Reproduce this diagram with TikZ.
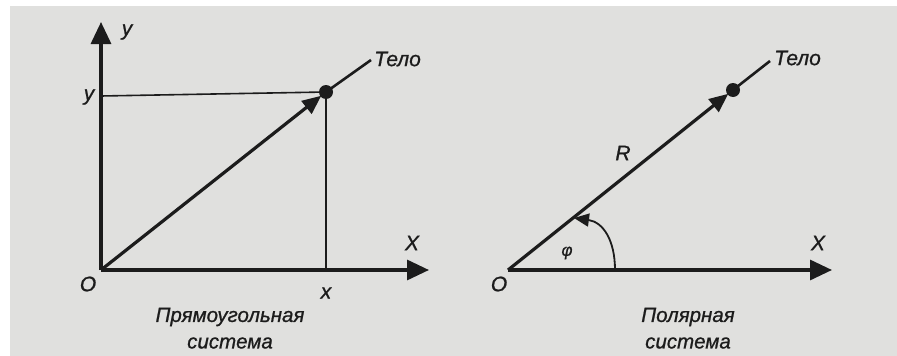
\documentclass[tikz,border=0pt]{standalone}
\usepackage{fontspec}
\setmainfont{Liberation Sans}[ItalicFeatures={FakeBold=0.9}]
\usetikzlibrary{arrows.meta}
\definecolor{ink}{RGB}{28,28,28}
\definecolor{paper}{RGB}{224,224,222}
\tikzset{
  axis/.style={draw=ink, line width=3.2pt, -{Triangle[length=22pt,width=20pt]}},
  vec/.style={draw=ink, line width=3.2pt, -{Triangle[length=19pt,width=16pt]}},
  ray/.style={draw=ink, line width=2.6pt},
  guide/.style={draw=ink, line width=1.6pt},
  body/.style={circle, fill=ink, inner sep=0pt, minimum size=14pt},
  lbl/.style={text=ink, font=\itshape\fontsize{21}{24}\selectfont, inner sep=0pt},
  captext/.style={text=ink, font=\itshape\fontsize{20.5}{26}\selectfont, inner sep=0pt, align=center}
}
\begin{document}
\begin{tikzpicture}[x=1pt,y=-1pt]
\useasboundingbox (0,0) rectangle (897,356);
\fill[white] (0,0) rectangle (897,356);
\fill[paper] (10,6) rectangle (897,356);
% ---------- left: rectangular system ----------
\coordinate (O1) at (101,270);
\coordinate (Y1) at (101,22);
\coordinate (X1) at (429,270);
\coordinate (Yp) at (101,96);
\coordinate (Xp) at (326,270);
\node[body] (B1) at (326,92) {};
\coordinate (T1) at (321.3,95.7);
\coordinate (E1) at (371,60);
\draw[guide] (Yp) -- (B1.center) -- (Xp);
\draw[axis] (O1) -- (Y1);
\draw[axis] (O1) -- (X1);
\draw[vec] (O1) -- (T1);
\draw[ray] (B1.center) -- (E1);
\node[lbl] (ly1) at (127,32) {y};
\node[lbl] (ly2) at (89,97) {y};
\node[lbl] (lX1) at (412,243) {X};
\node[lbl] (lO1) at (88,284) {O};
\node[lbl] (lx1) at (326,293) {x};
\node[lbl, anchor=west] (lT1) at (374,59) {Тело};
\node[captext] (c1a) at (230,317) {Прямоугольная};
\node[captext] (c1b) at (230,343) {система};
% ---------- right: polar system ----------
\coordinate (O2) at (508,270);
\coordinate (X2) at (832,270);
\node[body] (B2) at (733,90) {};
\coordinate (T2) at (728.3,93.8);
\coordinate (E2) at (770,61);
\coordinate (A0) at (615,270);
\coordinate (A1) at (574,218);
\draw[axis] (O2) -- (X2);
\draw[vec] (O2) -- (T2);
\draw[ray] (B2.center) -- (E2);
\draw[draw=ink, line width=1.8pt, -{Triangle[length=15pt,width=13pt]}]
  (A0) .. controls (615,240) and (603,222) .. (A1);
\node[lbl] (lX2) at (818,243) {X};
\node[lbl] (lO2) at (499,284) {O};
\node[lbl] (lR) at (623,153) {R};
\node[lbl, font=\itshape\fontsize{17}{20}\selectfont] (lphi) at (567,253) {φ};
\node[lbl, anchor=west] (lT2) at (774,58) {Тело};
\node[captext] (c2a) at (688,317) {Полярная};
\node[captext] (c2b) at (688,343) {система};
\end{tikzpicture}
\end{document}
